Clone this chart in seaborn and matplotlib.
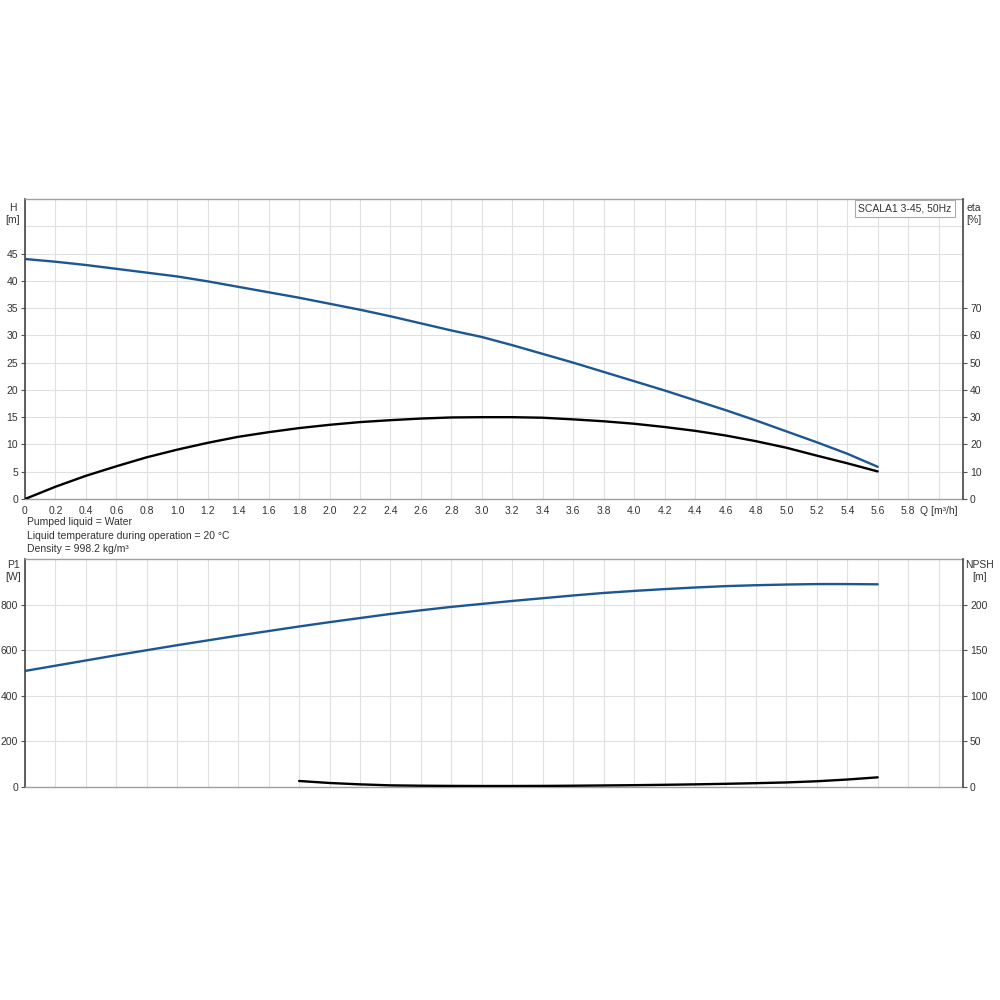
import matplotlib
matplotlib.use("Agg")
import matplotlib.pyplot as plt
import numpy as np
import pandas as pd
import seaborn as sns

# flow points (m3/h)
q = [0.0, 0.2, 0.4, 0.6, 0.8, 1.0, 1.2, 1.4, 1.6, 1.8, 2.0, 2.2, 2.4, 2.6, 2.8,
     3.0, 3.2, 3.4, 3.6, 3.8, 4.0, 4.2, 4.4, 4.6, 4.8, 5.0, 5.2, 5.4, 5.6]
# head H [m]
head = [44.0, 43.5, 42.9, 42.2, 41.5, 40.8, 39.9, 38.9, 37.9, 36.9, 35.8, 34.7, 33.5, 32.2, 30.9,
        29.7, 28.2, 26.6, 25.0, 23.3, 21.6, 19.9, 18.1, 16.3, 14.4, 12.4, 10.4, 8.3, 5.9]
# efficiency eta [%]
eta = [0.0, 4.5, 8.5, 12.0, 15.3, 18.1, 20.6, 22.8, 24.5, 26.0, 27.2, 28.2, 28.9, 29.5, 29.9,
       30.0, 30.0, 29.8, 29.2, 28.5, 27.6, 26.4, 25.0, 23.3, 21.2, 18.8, 15.9, 13.1, 10.1]
# power P1 [W]
p1 = [509, 532, 555, 578, 600, 622, 643, 664, 684, 704, 723, 741, 759, 775, 790,
      803, 816, 828, 840, 851, 860, 868, 875, 881, 885, 888, 890, 890, 889]
# NPSH [m]
q_npsh = [1.8, 2.0, 2.2, 2.4, 2.6, 2.8, 3.0, 3.2, 3.4, 3.6, 3.8, 4.0, 4.2, 4.4, 4.6,
          4.8, 5.0, 5.2, 5.4, 5.6]
npsh = [6.6, 4.4, 2.9, 1.8, 1.4, 1.2, 1.1, 1.1, 1.2, 1.4, 1.7, 2.0, 2.4, 2.9, 3.5,
        4.2, 5.0, 6.3, 8.2, 10.6]

x_ticks = [round(0.2 * i, 1) for i in range(31)]
x_labels = ["0"] + [f"{v:.1f}" for v in x_ticks[1:-1]] + ["Q [m\u00b3/h]"]

sns.set_style("white")
plt.rcParams["font.family"] = ["Liberation Sans", "DejaVu Sans"]
plt.rcParams["font.size"] = 7.5

BLUE = "#1c5693"
GRID = "#e0e0e0"
TXT = "#333333"

curve = pd.DataFrame({"Q": q, "H": head, "eta": eta, "P1": p1})
npsh_df = pd.DataFrame({"Q": q_npsh, "NPSH": npsh})

fig = plt.figure(figsize=(10, 10), dpi=100)
ax1 = fig.add_axes([0.025, 0.501, 0.938, 0.300])
ax3 = fig.add_axes([0.025, 0.213, 0.938, 0.228])


def style(ax, left_ticks, right_ax, right_ticks, right_labels):
    ax.set_xlim(0, 6.16)
    ax.set_xticks(x_ticks)
    ax.grid(True, axis="x", color=GRID, lw=0.8)
    ax.grid(True, axis="y", color=GRID, lw=0.8)
    ax.set_axisbelow(True)
    ax.set_yticks(left_ticks)
    ax.tick_params(axis="both", direction="out", length=3, width=0.8,
                   colors="#555555", labelcolor=TXT, labelsize=7.5, pad=2)
    ax.spines["left"].set_color("#444444")
    ax.spines["left"].set_linewidth(1.2)
    for s in ["top", "bottom"]:
        ax.spines[s].set_color("#a0a0a0")
        ax.spines[s].set_linewidth(1.0)
    ax.spines["right"].set_visible(False)
    right_ax.set_yticks(right_ticks)
    right_ax.set_yticklabels(right_labels)
    right_ax.tick_params(axis="y", direction="out", length=3, width=0.8,
                         colors="#555555", labelcolor=TXT, labelsize=7.5, pad=2)
    for s in ["left", "top", "bottom"]:
        right_ax.spines[s].set_visible(False)
    right_ax.spines["right"].set_color("#444444")
    right_ax.spines["right"].set_linewidth(1.2)


# ---- top panel: H and eta
ax2 = ax1.twinx()
sns.lineplot(data=curve, x="Q", y="H", ax=ax1, color=BLUE, lw=1.7, sort=False)
sns.lineplot(data=curve, x="Q", y="eta", ax=ax2, color="black", lw=1.7, sort=False)
ax1.set_ylim(0, 55)
ax2.set_ylim(0, 110)
style(ax1, list(range(0, 46, 5)), ax2, list(range(0, 71, 10)),
      [str(v) for v in range(0, 71, 10)])
ax1.axhline(50, color=GRID, lw=0.8, zorder=0)
ax1.set_xticklabels(x_labels)
ax1.set_xlabel("")
ax1.set_ylabel("")
ax2.set_ylabel("")

fig.text(0.013, 0.797, "H\n[m]", ha="center", va="top", color=TXT, fontsize=7.5, linespacing=1.3)
fig.text(0.974, 0.797, "eta\n[%]", ha="center", va="top", color=TXT, fontsize=7.5, linespacing=1.3)
ax1.text(0.988, 0.985, "SCALA1 3-45, 50Hz", transform=ax1.transAxes, ha="right", va="top",
         color=TXT, fontsize=7.5,
         bbox=dict(boxstyle="square,pad=0.3", fc="white", ec="#aaaaaa", lw=0.8))

fig.text(0.027, 0.478, "Pumped liquid = Water", ha="left", va="center", color=TXT, fontsize=7.5)
fig.text(0.027, 0.464, "Liquid temperature during operation = 20 \u00b0C", ha="left", va="center",
         color=TXT, fontsize=7.5)
fig.text(0.027, 0.451, "Density = 998.2 kg/m\u00b3", ha="left", va="center", color=TXT, fontsize=7.5)

# ---- bottom panel: P1 and NPSH
ax4 = ax3.twinx()
sns.lineplot(data=curve, x="Q", y="P1", ax=ax3, color=BLUE, lw=1.7, sort=False)
sns.lineplot(data=npsh_df, x="Q", y="NPSH", ax=ax4, color="black", lw=1.7, sort=False)
ax3.set_ylim(0, 1000)
ax4.set_ylim(0, 250)
style(ax3, [0, 200, 400, 600, 800], ax4, [0, 50, 100, 150, 200],
      ["0", "50", "100", "150", "200"])
ax3.tick_params(axis="x", length=0, labelbottom=False)
ax3.set_xlabel("")
ax3.set_ylabel("")
ax4.set_ylabel("")

fig.text(0.013, 0.440, "P1\n[W]", ha="center", va="top", color=TXT, fontsize=7.5, linespacing=1.3)
fig.text(0.980, 0.440, "NPSH\n[m]", ha="center", va="top", color=TXT, fontsize=7.5, linespacing=1.3)

fig.savefig("out.png", dpi=100, facecolor="white")
